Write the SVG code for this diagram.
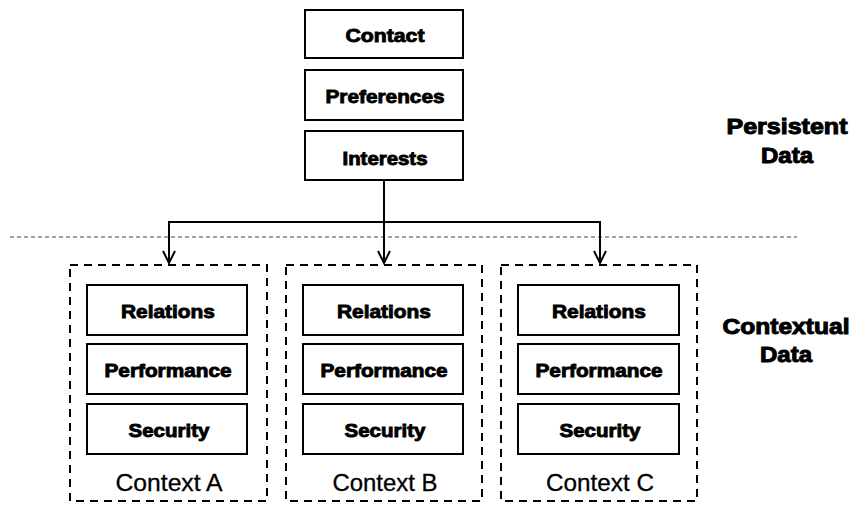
<svg xmlns="http://www.w3.org/2000/svg" width="855" height="505" viewBox="0 0 855 505">
  <style>
    .box { fill: #fff; stroke: #000; stroke-width: 2; }
    .ctx { fill: none; stroke: #000; stroke-width: 2; stroke-dasharray: 8 6; }
    .sep { fill: none; stroke: #444; stroke-width: 1.2; stroke-dasharray: 4 3; }
    .wire { fill: none; stroke: #000; stroke-width: 2; }
    .lbl { font-family: "Liberation Sans", Arial, sans-serif; font-weight: bold; font-size: 19px; text-anchor: middle; fill: #000; stroke: #000; stroke-width: 0.9; }
    .head { font-family: "Liberation Sans", Arial, sans-serif; font-weight: bold; font-size: 22px; text-anchor: middle; fill: #000; stroke: #000; stroke-width: 1; }
    .name { font-family: "Liberation Sans", Arial, sans-serif; font-size: 24px; text-anchor: middle; fill: #000; stroke: #000; stroke-width: 0.3; }
  </style>
  <defs>
    <marker id="arrow" markerUnits="userSpaceOnUse" markerWidth="14" markerHeight="14" refX="12" refY="6" orient="auto" overflow="visible">
      <path d="M0,0 L12,6 L0,12" fill="none" stroke="#000" stroke-width="2"/>
    </marker>
  </defs>

  <!-- separator between persistent and contextual data -->
  <line class="sep" x1="10" y1="237" x2="797" y2="237"/>

  <!-- persistent data stack -->
  <g id="contact">
    <rect class="box" x="305" y="10" width="158" height="48"/>
    <text class="lbl" x="385" y="42" textLength="79" lengthAdjust="spacingAndGlyphs">Contact</text>
  </g>
  <g id="preferences">
    <rect class="box" x="305" y="70" width="158" height="50"/>
    <text class="lbl" x="385" y="103" textLength="119" lengthAdjust="spacingAndGlyphs">Preferences</text>
  </g>
  <g id="interests">
    <rect class="box" x="305" y="131" width="158" height="49"/>
    <text class="lbl" x="385" y="165" textLength="85" lengthAdjust="spacingAndGlyphs">Interests</text>
  </g>

  <!-- connectors -->
  <g id="connectors">
    <path class="wire" d="M384,180 V263" marker-end="url(#arrow)"/>
    <path class="wire" d="M169,222 H600"/>
    <path class="wire" d="M169,221 V263" marker-end="url(#arrow)"/>
    <path class="wire" d="M600,221 V263" marker-end="url(#arrow)"/>
  </g>

  <!-- context A -->
  <g id="context-a">
    <rect class="ctx" x="70" y="265" width="197" height="236"/>
    <rect class="box" x="87" y="285" width="160" height="50"/>
    <text class="lbl" x="168" y="318" textLength="94" lengthAdjust="spacingAndGlyphs">Relations</text>
    <rect class="box" x="87" y="344" width="160" height="50"/>
    <text class="lbl" x="168" y="377" textLength="127" lengthAdjust="spacingAndGlyphs">Performance</text>
    <rect class="box" x="87" y="404" width="160" height="50"/>
    <text class="lbl" x="169" y="437" textLength="81" lengthAdjust="spacingAndGlyphs">Security</text>
    <text class="name" x="169" y="491" textLength="107" lengthAdjust="spacingAndGlyphs">Context A</text>
  </g>

  <!-- context B -->
  <g id="context-b">
    <rect class="ctx" x="286" y="265" width="196" height="236"/>
    <rect class="box" x="303" y="285" width="160" height="50"/>
    <text class="lbl" x="384" y="318" textLength="94" lengthAdjust="spacingAndGlyphs">Relations</text>
    <rect class="box" x="303" y="344" width="160" height="50"/>
    <text class="lbl" x="384" y="377" textLength="127" lengthAdjust="spacingAndGlyphs">Performance</text>
    <rect class="box" x="303" y="404" width="160" height="50"/>
    <text class="lbl" x="385" y="437" textLength="81" lengthAdjust="spacingAndGlyphs">Security</text>
    <text class="name" x="385" y="491" textLength="105" lengthAdjust="spacingAndGlyphs">Context B</text>
  </g>

  <!-- context C -->
  <g id="context-c">
    <rect class="ctx" x="501" y="265" width="196" height="236"/>
    <rect class="box" x="518" y="285" width="161" height="50"/>
    <text class="lbl" x="599" y="318" textLength="94" lengthAdjust="spacingAndGlyphs">Relations</text>
    <rect class="box" x="518" y="344" width="161" height="50"/>
    <text class="lbl" x="599" y="377" textLength="127" lengthAdjust="spacingAndGlyphs">Performance</text>
    <rect class="box" x="518" y="404" width="161" height="50"/>
    <text class="lbl" x="600" y="437" textLength="81" lengthAdjust="spacingAndGlyphs">Security</text>
    <text class="name" x="600" y="491" textLength="108" lengthAdjust="spacingAndGlyphs">Context C</text>
  </g>

  <!-- layer captions -->
  <g id="persistent-label">
    <text class="head" x="787" y="134" textLength="121" lengthAdjust="spacingAndGlyphs">Persistent</text>
    <text class="head" x="787" y="163" textLength="52" lengthAdjust="spacingAndGlyphs">Data</text>
  </g>
  <g id="contextual-label">
    <text class="head" x="786" y="334" textLength="127" lengthAdjust="spacingAndGlyphs">Contextual</text>
    <text class="head" x="786" y="362" textLength="52" lengthAdjust="spacingAndGlyphs">Data</text>
  </g>
</svg>
